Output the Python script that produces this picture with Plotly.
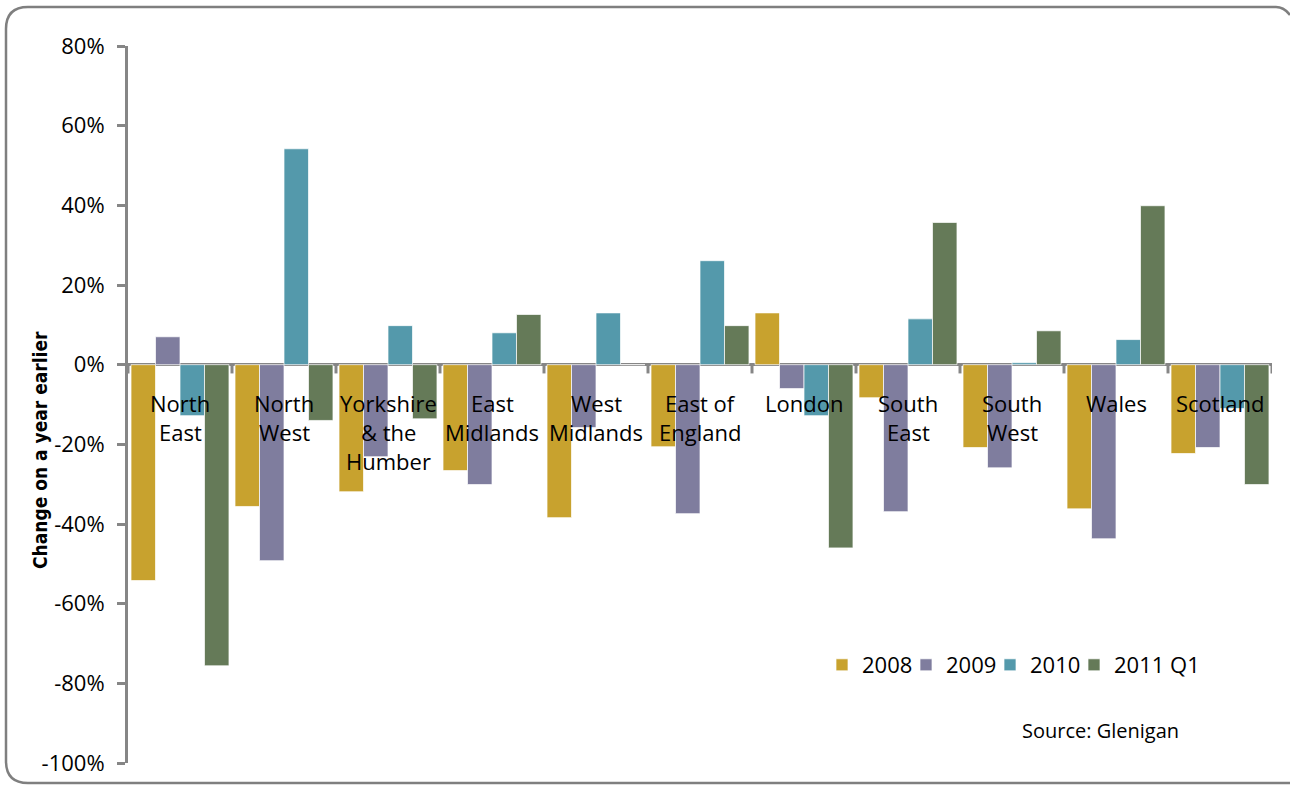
import plotly.graph_objects as go

regions = ["North<br>East", "North<br>West", "Yorkshire<br>& the<br>Humber", "East<br>Midlands",
           "West<br>Midlands", "East of<br>England", "London", "South<br>East", "South<br>West",
           "Wales", "Scotland"]
series_names = ["2008", "2009", "2010", "2011 Q1"]
v2008 = [-0.542, -0.356, -0.319, -0.266, -0.384, -0.206, 0.130, -0.083, -0.208, -0.362, -0.223]
v2009 = [0.070, -0.492, -0.231, -0.301, -0.158, -0.374, -0.060, -0.369, -0.259, -0.437, -0.208]
v2010 = [-0.128, 0.542, 0.098, 0.080, 0.130, 0.261, -0.128, 0.115, 0.005, 0.063, -0.110]
v2011 = [-0.756, -0.140, -0.136, 0.126, 0.0, 0.098, -0.460, 0.357, 0.085, 0.399, -0.301]
colors = ["#C8A22E", "#7F7D9E", "#5499AB", "#657A58"]
y_ticks = [0.8, 0.6, 0.4, 0.2, 0.0, -0.2, -0.4, -0.6, -0.8, -1.0]
y_tick_text = ["80%", "60%", "40%", "20%", "0%", "-20%", "-40%", "-60%", "-80%", "-100%"]

FONT = "Open Sans, Lato, sans-serif"
W, H = 1290, 785
ML, MR, MT, MB = 128, 18, 46, 22

def px(xp):
    return (xp - ML) / (W - ML - MR)
def py(yp):
    return (H - MB - yp) / (H - MT - MB)

fig = go.Figure()
legend_ids = ["legend", "legend2", "legend3", "legend4"]
for name, vals, col, lg in zip(series_names, [v2008, v2009, v2010, v2011], colors, legend_ids):
    fig.add_trace(go.Bar(x=list(range(len(regions))), y=vals, name=name, legend=lg,
                         marker=dict(color=col, line=dict(color="rgba(255,255,255,0.7)", width=1))))

# category labels below the zero line
for i, lab in enumerate(regions):
    for j, line in enumerate(lab.split("<br>")):
        fig.add_annotation(x=i, y=0, xref="x", yref="y", text=line, showarrow=False,
                           yanchor="middle", xanchor="center", yshift=-38 - 29 * j,
                           font=dict(family=FONT, size=22, color="#000000"))

# category boundary tick marks on the zero line
for k in range(len(regions) + 1):
    fig.add_shape(type="line", xref="x", yref="y", x0=k - 0.5, x1=k - 0.5, y0=0, y1=-0.022,
                  line=dict(color="#868686", width=3))

# rounded chart border
x0, y0, r = 6, 7, 22
path = (f"M {px(x0)},{py(y0 + r)} Q {px(x0)},{py(y0)} {px(x0 + r)},{py(y0)} "
        f"L {px(1276)},{py(y0)} Q {px(1284)},{py(y0)} {px(1290)},{py(y0 + 8)}")
fig.add_shape(type="path", xref="paper", yref="paper", path=path,
              line=dict(color="#7F7F7F", width=2.5), layer="below")
path2 = (f"M {px(x0)},{py(y0 + r)} L {px(x0)},{py(783 - r)} Q {px(x0)},{py(783)} {px(x0 + r)},{py(783)} "
         f"L {px(1300)},{py(783)}")
fig.add_shape(type="path", xref="paper", yref="paper", path=path2,
              line=dict(color="#7F7F7F", width=2.5), layer="below")

fig.add_annotation(text="Change on a year earlier", xref="paper", yref="paper",
                   x=px(40), y=py(450), xanchor="center", yanchor="middle",
                   textangle=-90, showarrow=False,
                   font=dict(family="Liberation Sans Narrow, DejaVu Sans Condensed, sans-serif",
                             size=19, color="#000000", weight="bold"))
fig.add_annotation(text="Source: Glenigan", xref="paper", yref="paper",
                   x=px(1020), y=py(730), xanchor="left", yanchor="middle", showarrow=False,
                   font=dict(family=FONT, size=20, color="#000000"))

legend_common = dict(orientation="h", y=py(665), xanchor="left", yanchor="middle",
                     font=dict(family=FONT, size=22), bgcolor="rgba(0,0,0,0)", itemwidth=30)

fig.update_layout(
    width=W, height=H, margin=dict(l=ML, r=MR, t=MT, b=MB, autoexpand=False),
    paper_bgcolor="white", plot_bgcolor="white",
    barmode="group", bargap=0.058, bargroupgap=0,
    font=dict(family=FONT, size=22, color="#000000"),
    showlegend=True,
    legend=dict(x=px(822), **legend_common),
    legend2=dict(x=px(822 + 84), **legend_common),
    legend3=dict(x=px(822 + 2 * 84), **legend_common),
    legend4=dict(x=px(822 + 3 * 84), **legend_common),
    xaxis=dict(range=[-0.5, len(regions) - 0.5], showticklabels=False, showgrid=False,
               zeroline=False, showline=False, ticks=""),
    yaxis=dict(range=[-1.0, 0.8], tickvals=y_ticks, ticktext=y_tick_text, showgrid=False,
               zeroline=True, zerolinecolor="#868686", zerolinewidth=3,
               showline=True, linecolor="#868686", linewidth=3,
               ticks="outside", ticklen=8, tickwidth=3, tickcolor="#868686",
               ticklabelstandoff=8,
               tickfont=dict(family=FONT, size=22, color="#000000")),
)

fig.write_html("out.html")
